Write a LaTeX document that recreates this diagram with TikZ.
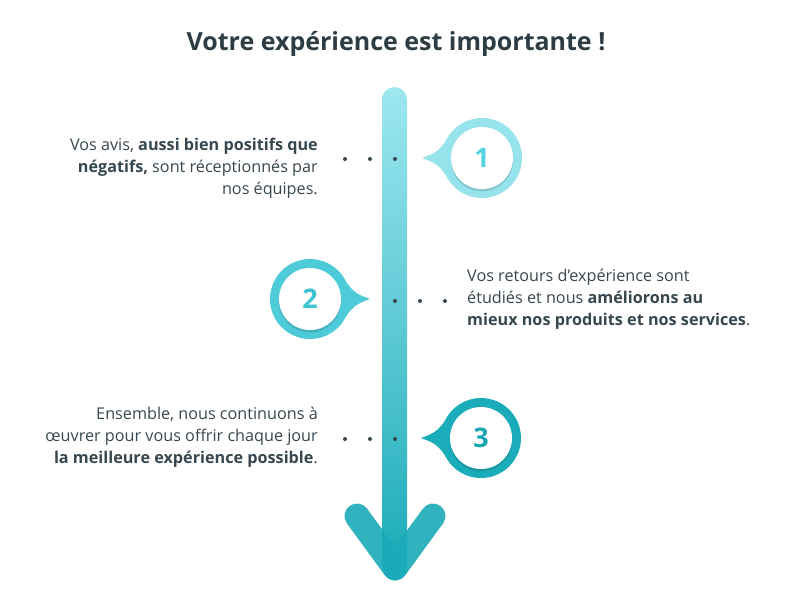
\documentclass[tikz,border=0pt]{standalone}
\usepackage{fontspec}
\setmainfont{Open Sans}
\definecolor{encre}{HTML}{37474F}
\definecolor{titre}{HTML}{2E3D44}
\definecolor{cA}{HTML}{96E3EC}
\definecolor{nA}{HTML}{55D3E0}
\definecolor{cB}{HTML}{4DCBD9}
\definecolor{nB}{HTML}{3DC3D2}
\definecolor{cC}{HTML}{1BACB9}
\definecolor{nC}{HTML}{1BA6B4}
\definecolor{tige}{HTML}{9DE7F0}
\definecolor{pointe}{HTML}{1AAAB8}
\tikzset{
  texte/.style={text=encre,font=\fontsize{16.2}{22}\selectfont,inner sep=0pt},
  chiffre/.style={font=\fontsize{27}{27}\selectfont\bfseries,inner sep=0pt},
  point/.style={fill=encre},
}
\begin{document}
\begin{tikzpicture}[x=1pt,y=-1pt]
\useasboundingbox (0,0) rectangle (792,603);
\node[text=titre,font=\fontsize{25}{25}\selectfont\bfseries] (titre) at (396,44) {Votre expérience est importante !};
% tige et pointe
\shade[top color=tige,bottom color=pointe,rounded corners=12.5] (382,87) rectangle (407,575);
\draw[pointe,opacity=.9,line width=25,line cap=round] (357,516)--(395,568);
\draw[pointe,opacity=.9,line width=25,line cap=round] (433,516)--(395,568);
% bulles
\foreach \n/\cx/\cy/\s/\col/\num in {1/482/158/1/cA/nA,2/310/299/-1/cB/nB,3/481/438/1/cC/nC}{
\begin{scope}[shift={(\cx,\cy)},xscale=\s]
\fill[\col] (0,0) circle (40);
\fill[\col] (-60,0) .. controls (-44,-6) .. (-28,-28) -- (0,0) -- (-28,28) .. controls (-44,6) .. (-60,0);
\fill[black,opacity=.12] (0,2.5) circle (31);
\fill[white] (0,0) circle (31);
\node[chiffre,text=\num] (num\n) at (0,0) {\n};
\end{scope}
}
% points
\foreach \x/\y in {345/159,370/159,395/159,395/301,420/301,445/301,345/439,370/439,395/439}
\fill[point] (\x,\y) circle (2);
% textes
\node[texte,anchor=east,align=right] (avis) at (318,168) {Vos avis, \textbf{aussi bien positifs que}\\\textbf{négatifs,} sont réceptionnés par\\nos équipes.};
\node[texte,anchor=west,align=left] (retours) at (467,299) {Vos retours d’expérience sont\\étudiés et nous \textbf{améliorons au}\\\textbf{mieux nos produits et nos services}.};
\node[texte,anchor=east,align=right] (ensemble) at (318,437) {Ensemble, nous continuons à\\œuvrer pour vous offrir chaque jour\\\textbf{la meilleure expérience possible}.};
\end{tikzpicture}
\end{document}
